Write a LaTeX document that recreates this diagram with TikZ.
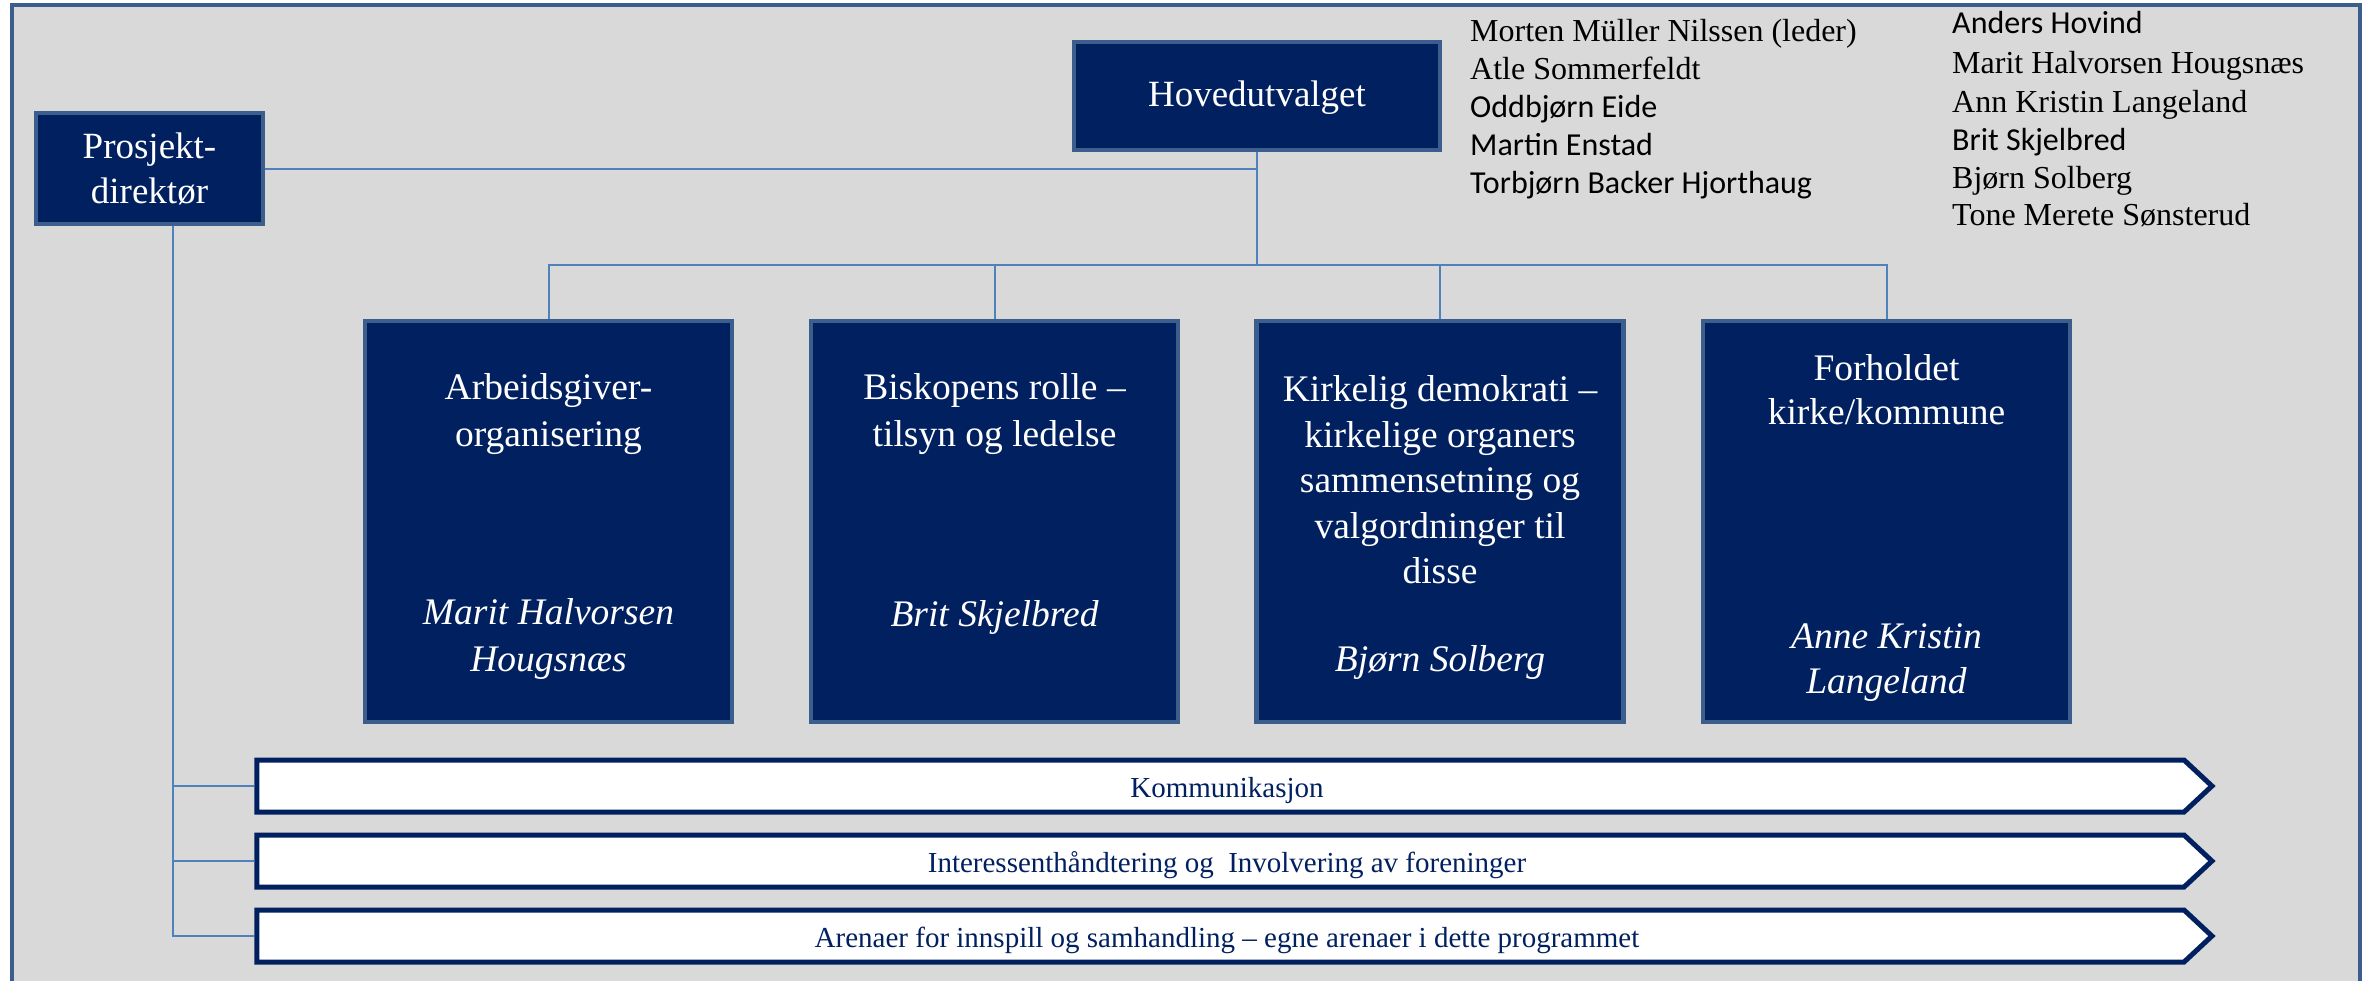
\documentclass[tikz,border=0pt]{standalone}
\usepackage{fontspec}
\setmainfont{Liberation Serif}
\newfontfamily\calfont{Carlito}
\usetikzlibrary{shapes.symbols,calc}
\definecolor{navy}{HTML}{002060}
\definecolor{bordblue}{HTML}{3B5E8C}
\definecolor{linkblue}{HTML}{4F81BD}
\definecolor{bggray}{HTML}{D9D9D9}
\begin{document}
\begin{tikzpicture}[x=1pt,y=-1pt,
  darkbox/.style={draw=bordblue, line width=4.5pt, fill=navy, inner sep=0pt},
  boxtext/.style={text=white, align=center, font=\fontsize{37.5}{47}\selectfont},
  nametext/.style={text=white, align=center, font=\fontsize{37.5}{47}\selectfont\itshape},
  link/.style={draw=linkblue, line width=2pt},
  band/.style={signal, signal to=east, signal pointer angle=86, draw=navy, line width=5pt, fill=white,
    minimum width=1955pt, minimum height=52pt, inner sep=0pt},
  bandtext/.style={text=navy, inner sep=0pt, anchor=base, font=\fontsize{29}{34}\selectfont},
  listt/.style={anchor=base west, inner sep=0pt, font=\fontsize{32}{36}\selectfont},
  listc/.style={anchor=base west, inner sep=0pt, font=\fontsize{32}{36}\selectfont\calfont}]
\useasboundingbox (0,0) rectangle (2372,980);
\fill[white] (0,0) rectangle (2372,980);
\draw[draw=bordblue, line width=4pt, fill=bggray] (12,5) rectangle (2360,1000);

% top boxes
\node[darkbox, minimum width=227pt, minimum height=111pt] (pd) at (149.5,168.5) {};
\node[boxtext, font=\fontsize{37}{45}\selectfont] (pdt) at (pd.center) {Prosjekt-\\direktør};
\node[darkbox, minimum width=366pt, minimum height=108pt] (hu) at (1257,96) {};
\node[boxtext, font=\fontsize{37}{45}\selectfont] (hut) at (1257,98) {Hovedutvalget};

% four boxes
\node[darkbox, minimum width=367pt, minimum height=401pt] (b1) at (548.5,521.5) {};
\node[darkbox, minimum width=367pt, minimum height=401pt] (b2) at (994.5,521.5) {};
\node[darkbox, minimum width=367pt, minimum height=401pt] (b3) at (1440,521.5) {};
\node[darkbox, minimum width=367pt, minimum height=401pt] (b4) at (1886.5,521.5) {};

\node[boxtext] (t1) at (548.5,414) {Arbeidsgiver-\\organisering};
\node[nametext] (n1) at (548.5,639) {Marit Halvorsen\\Hougsnæs};
\node[boxtext] (t2) at (994.5,414) {Biskopens rolle –\\tilsyn og ledelse};
\node[nametext] (n2) at (994.5,617) {Brit Skjelbred};
\node[boxtext, font=\fontsize{37.5}{45.5}\selectfont] (t3) at (1440,480) {Kirkelig demokrati –\\kirkelige organers\\sammensetning og\\valgordninger til\\disse};
\node[nametext] (n3) at (1440,662) {Bjørn Solberg};
\node[boxtext, font=\fontsize{37.5}{44}\selectfont] (t4) at (1886.5,390) {Forholdet\\kirke/kommune};
\node[nametext, font=\fontsize{37.5}{45}\selectfont\itshape] (n4) at (1886.5,663) {Anne Kristin\\Langeland};

% bands
\node[band] (a1) at (1220.5,786) {};
\node[bandtext] (a1t) at (1227,797) {Kommunikasjon};
\node[band] (a2) at (1220.5,861) {};
\node[bandtext] (a2t) at (1227,872) {Interessenthåndtering og \ Involvering av foreninger};
\node[band] (a3) at (1220.5,936) {};
\node[bandtext] (a3t) at (1227,947) {Arenaer for innspill og samhandling – egne arenaer i dette programmet};

% connectors
\coordinate (busy) at (0,265);
\draw[link] (hu.south) -- (hu.south |- busy);
\draw[link] (b1.north) -- (b1.north |- busy) -- (b4.north |- busy) -- (b4.north);
\draw[link] (b2.north) -- (b2.north |- busy);
\draw[link] (b3.north) -- (b3.north |- busy);
\draw[link] (pd.east) -- (pd.east -| hu.south);
\coordinate (pdx) at ($(pd.south west)+(139,0)$);
\draw[link] (pdx) |- (a3.west);
\draw[link] (pdx |- a1.west) -- (a1.west);
\draw[link] (pdx |- a2.west) -- (a2.west);

% member lists
\node[listt] (m1) at (1470,41) {Morten Müller Nilssen (leder)};
\node[listt] (m2) at (1470,79) {Atle Sommerfeldt};
\node[listc] (m3) at (1470,117) {Oddbjørn Eide};
\node[listc] (m4) at (1470,155) {Martin Enstad};
\node[listc] (m5) at (1470,193) {Torbjørn Backer Hjorthaug};
\node[listc] (k1) at (1952,33.5) {Anders Hovind};
\node[listt] (k2) at (1952,73.5) {Marit Halvorsen Hougsnæs};
\node[listt] (k3) at (1952,112.5) {Ann Kristin Langeland};
\node[listc] (k4) at (1952,150.5) {Brit Skjelbred};
\node[listt] (k5) at (1952,188.5) {Bjørn Solberg};
\node[listt] (k6) at (1952,225.5) {Tone Merete Sønsterud};
\end{tikzpicture}
\end{document}
